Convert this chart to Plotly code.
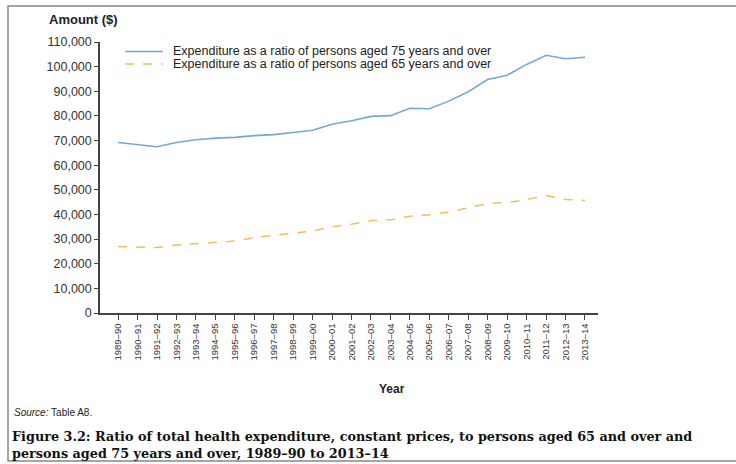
import plotly.graph_objects as go

years = ["1989–90", "1990–91", "1991–92", "1992–93", "1993–94", "1994–95", "1995–96",
         "1996–97", "1997–98", "1998–99", "1999–00", "2000–01", "2001–02", "2002–03",
         "2003–04", "2004–05", "2005–06", "2006–07", "2007–08", "2008–09", "2009–10",
         "2010–11", "2011–12", "2012–13", "2013–14"]
aged75 = [69200, 68300, 67500, 69200, 70300, 71000, 71300, 72000, 72400, 73300, 74200,
          76600, 78000, 79800, 80100, 83100, 82900, 86000, 89800, 94800, 96500,
          100900, 104600, 103200, 103800]
aged65 = [27000, 26900, 26600, 27600, 28200, 28700, 29200, 30600, 31500, 32400, 33300,
          35000, 36000, 37500, 37800, 39300, 39900, 41000, 42700, 44400, 44900,
          46000, 47700, 46100, 45700]
y_ticks = list(range(0, 110001, 10000))
legend_names = ["Expenditure as a ratio of persons aged 75 years and over",
                "Expenditure as a ratio of persons aged 65 years and over"]

W, H = 736, 464
L, R, T, B = 100, 598, 42, 313
BLUE, ORANGE = "#74a9d6", "#f6bb5e"
SANS = "Liberation Sans, Arial, sans-serif"
SERIF = "DejaVu Serif, Liberation Serif, serif"

fig = go.Figure()
fig.add_trace(go.Scatter(x=years, y=aged75, mode="lines", name=legend_names[0],
                         line=dict(color=BLUE, width=1.6)))
fig.add_trace(go.Scatter(x=years, y=aged65, mode="lines", name=legend_names[1],
                         line=dict(color=ORANGE, width=1.5, dash="dash")))

fig.update_layout(
    width=W, height=H,
    margin=dict(l=L, r=W - R, t=T, b=H - B),
    paper_bgcolor="white", plot_bgcolor="white",
    showlegend=False,
    xaxis=dict(type="category", range=[-0.93, 24.67], showgrid=False, zeroline=False,
               showline=True, linecolor="#444444", linewidth=1.5,
               ticks="outside", ticklen=5, tickwidth=1.2, tickcolor="#444444",
               tickangle=-90, tickfont=dict(family=SANS, size=9.5, color="#333333")),
    yaxis=dict(range=[0, 110000], tickvals=y_ticks, tickformat=",", showgrid=False,
               zeroline=False, showline=True, linecolor="#444444", linewidth=1.5,
               ticks="outside", ticklen=4, tickwidth=1.2, tickcolor="#444444",
               tickfont=dict(family=SANS, size=12.5, color="#333333")),
)

def px2x(px):
    return (px - L) / (R - L)

def py2y(py):
    return (B - py) / (B - T)

# frame around the figure
fig.add_shape(type="rect", xref="paper", yref="paper",
              x0=px2x(8), x1=px2x(745), y0=py2y(461), y1=py2y(6),
              line=dict(color="#888888", width=1.5), fillcolor="rgba(0,0,0,0)", layer="below")

def ann(text, px, py, size, family=SANS, color="#222222", xanchor="left", yanchor="middle"):
    fig.add_annotation(text=text, xref="paper", yref="paper", x=px2x(px), y=py2y(py),
                       xanchor=xanchor, yanchor=yanchor, showarrow=False,
                       font=dict(family=family, size=size, color=color))

# legend drawn manually (tight spacing like the reference)
for i, (name, col, dash) in enumerate(zip(legend_names, [BLUE, ORANGE], ["solid", "dash"])):
    yy = 51.5 + i * 12.5
    fig.add_shape(type="line", xref="paper", yref="paper",
                  x0=px2x(125), x1=px2x(163), y0=py2y(yy), y1=py2y(yy),
                  line=dict(color=col, width=1.6, dash=dash))
    ann(name, 171, yy, 12.5)

ann("<b>Amount ($)</b>", 47, 19, 13)
ann("<b>Year</b>", 392, 389, 12, xanchor="center")
ann("<i>Source:</i> Table A8.", 12, 412, 10)
ann("<b>Figure 3.2: Ratio of total health expenditure, constant prices, to persons aged 65 and over and</b>",
    10, 436, 12.8, family=SERIF, color="#111111")
ann("<b>persons aged 75 years and over, 1989–90 to 2013–14</b>",
    10, 453, 12.8, family=SERIF, color="#111111")

fig.write_html("out.html", config={"displayModeBar": False},
               post_script="document.body.style.margin='0';document.body.style.overflow='hidden';")
